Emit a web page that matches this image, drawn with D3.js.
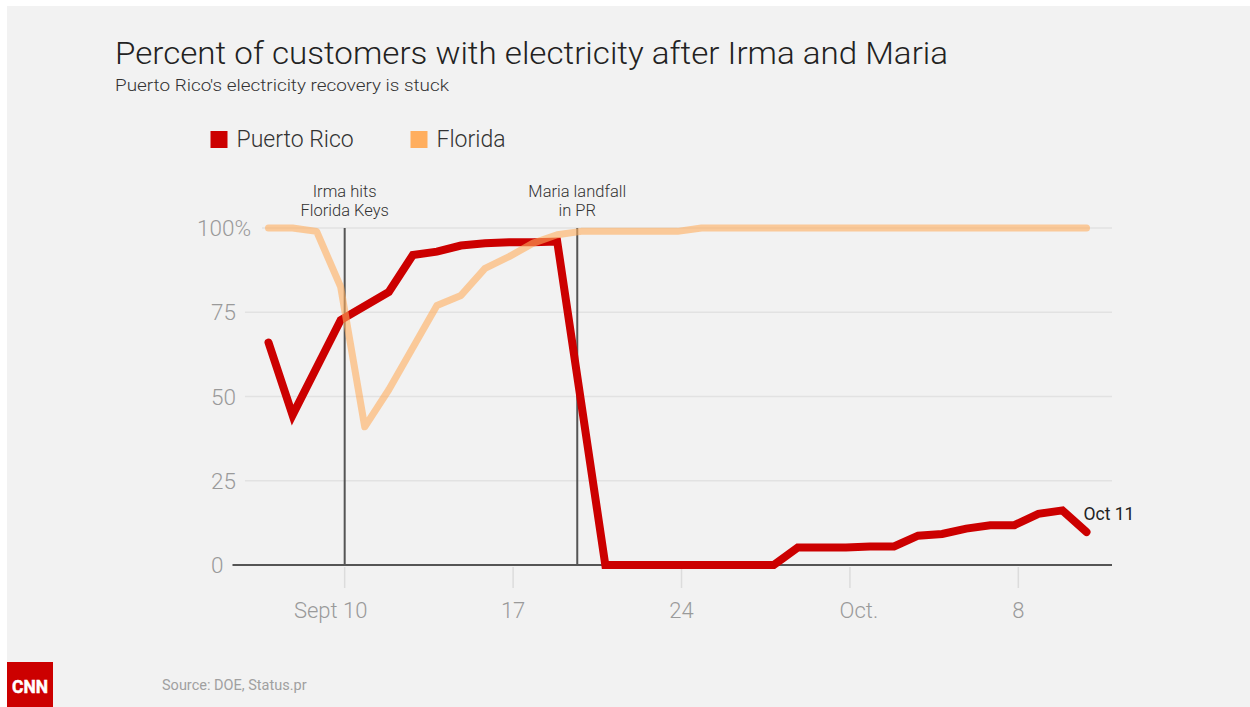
<!DOCTYPE html>
<html>
<head>
<meta charset="utf-8">
<script src="https://cdn.jsdelivr.net/npm/d3@7"></script>
<style>
body{margin:0;background:#fff;}
svg{display:block;font-family:Roboto, "Helvetica Neue", Arial, sans-serif;}
</style>
</head>
<body>
<svg id="chart" width="1250" height="707"></svg>
<script>
// Puerto Rico, share of customers with power (%)
const prDates = ["2017-09-07","2017-09-08","2017-09-10","2017-09-12","2017-09-13","2017-09-14",
    "2017-09-15","2017-09-16","2017-09-17","2017-09-18","2017-09-19","2017-09-21","2017-09-28",
    "2017-09-29","2017-10-01","2017-10-02","2017-10-03","2017-10-04","2017-10-05","2017-10-06",
    "2017-10-07","2017-10-08","2017-10-09","2017-10-10","2017-10-11"];
const prValues = [66,44.5,72.7,81,92,93,94.8,95.5,95.8,95.8,96,0,0,
    5.2,5.2,5.5,5.5,8.7,9.2,10.8,11.8,11.8,15.2,16.2,9.8];

// Florida
const flDates = ["2017-09-07","2017-09-08","2017-09-09","2017-09-10","2017-09-11","2017-09-12",
    "2017-09-13","2017-09-14","2017-09-15","2017-09-16","2017-09-17","2017-09-18","2017-09-19",
    "2017-09-20","2017-09-24","2017-09-25","2017-10-11"];
const flValues = [100,100,99,82.5,41,52,64.5,77,80,88,91.5,95.5,98,99,99,100,100];

const seriesNames = ["Puerto Rico","Florida"];
const yTicks = [0,25,50,75,100];
const xTickDates = ["2017-09-10","2017-09-17","2017-09-24","2017-10-01","2017-10-08"];
const xTickLabels = ["Sept 10","17","24","Oct.","8"];
const eventDates = ["2017-09-10T04:00","2017-09-19T20:00"];
const eventLabels = [["Irma hits","Florida Keys"],["Maria landfall","in PR"]];

const red = "#cc0000", orange = "#ffae5e";

const parseDay = d3.utcParse("%Y-%m-%d");
const parseTime = d3.utcParse("%Y-%m-%dT%H:%M");
// the data is stamped at UTC midnight, the axis ticks at Eastern midnight
const tickDate = d => d3.utcHour.offset(parseDay(d), 4);

const svg = d3.select("#chart");
svg.append("rect")
    .attr("x",7).attr("y",6)
    .attr("width",1243).attr("height",701)
    .attr("fill","#f2f2f2");

const x = d3.scaleUtc()
    .domain([parseDay("2017-09-07"), parseDay("2017-10-11")])
    .range([268.5, 1086.5]);
const y = d3.scaleLinear().domain([0,100]).range([565,228]);
const xEnd = 1112;

// title
svg.append("text")
    .attr("x",115).attr("y",64)
    .attr("font-size",31).attr("font-weight",300)
    .attr("fill","#222")
    .attr("textLength",833).attr("lengthAdjust","spacingAndGlyphs")
    .text("Percent of customers with electricity after Irma and Maria");
svg.append("text")
    .attr("x",115).attr("y",91)
    .attr("font-size",17).attr("font-weight",300)
    .attr("fill","#333")
    .attr("textLength",334).attr("lengthAdjust","spacingAndGlyphs")
    .text("Puerto Rico's electricity recovery is stuck");

// legend
const legend = svg.append("g");
const legendX = [210.5, 410.5];
seriesNames.forEach((name,i) => {
    legend.append("rect")
        .attr("x",legendX[i]).attr("y",131)
        .attr("width",17).attr("height",17)
        .attr("fill", i === 0 ? red : orange);
    legend.append("text")
        .attr("x",legendX[i]+26).attr("y",147)
        .attr("font-size",23).attr("font-weight",300)
        .attr("fill","#333")
        .text(name);
});

// y axis labels + gridlines
const yAxis = svg.append("g");
yTicks.forEach(v => {
    const label = yAxis.append("text")
        .attr("y", y(v)+8)
        .attr("font-size",22.5).attr("font-weight",300)
        .attr("fill","#9a9a9a")
        .text(v === 100 ? "100%" : v);
    let lx = 211;
    if (v === 100) lx = 197;
    label.attr("x", lx);
    const end = lx + label.node().getComputedTextLength() + 9;
    yAxis.insert("line", ":first-child")
        .attr("x1", v === 100 ? 262 : end).attr("x2", xEnd)
        .attr("y1", y(v)).attr("y2", y(v))
        .attr("stroke", v === 0 ? "#555" : "#e2e2e2")
        .attr("stroke-width", v === 0 ? 2 : 1.5);
});

// x axis ticks
const xAxis = svg.append("g");
xTickDates.forEach((d,i) => {
    const tx = x(tickDate(d));
    xAxis.append("line")
        .attr("x1",tx).attr("x2",tx)
        .attr("y1",567).attr("y2",588)
        .attr("stroke","#dcdcdc").attr("stroke-width",1.5);
    xAxis.append("text")
        .attr("x",tx).attr("y",618)
        .attr("dx", i === 0 ? -14 : (xTickLabels[i] === "Oct." ? 9 : 0))
        .attr("text-anchor","middle")
        .attr("font-size",22).attr("font-weight",300)
        .attr("fill","#9a9a9a")
        .text(xTickLabels[i]);
});

// event markers
eventDates.forEach((d,i) => {
    const ex = x(parseTime(d));
    svg.append("line")
        .attr("x1",ex).attr("x2",ex)
        .attr("y1",y(100)).attr("y2",y(0))
        .attr("stroke","#555").attr("stroke-width",2);
    eventLabels[i].forEach((s,j) => {
        svg.append("text")
            .attr("x",ex).attr("y",197 + j*19)
            .attr("text-anchor","middle")
            .attr("font-size",16.5).attr("font-weight",300)
            .attr("fill","#333")
            .text(s);
    });
});

// lines
const pr = prDates.map((d,i) => ({date: parseDay(d), value: prValues[i]}));
const fl = flDates.map((d,i) => ({date: parseDay(d), value: flValues[i]}));
const line = d3.line().x(d => x(d.date)).y(d => y(d.value));

svg.append("path")
    .datum(pr)
    .attr("d", line)
    .attr("fill","none")
    .attr("stroke",red)
    .attr("stroke-width",8)
    .attr("stroke-linejoin","miter")
    .attr("stroke-linecap","round");

svg.append("path")
    .datum(fl)
    .attr("d", line)
    .attr("fill","none")
    .attr("stroke",orange)
    .attr("stroke-opacity",0.6)
    .attr("stroke-width",7)
    .attr("stroke-linejoin","round")
    .attr("stroke-linecap","round");

// end label
const last = pr[pr.length-1];
svg.append("text")
    .attr("x", x(last.date)-3).attr("y", y(last.value)-12)
    .attr("font-size",17.5)
    .attr("fill","#222")
    .text("Oct 11");

// source + logo
svg.append("text")
    .attr("x",162).attr("y",690)
    .attr("font-size",14.5)
    .attr("fill","#a0a0a0")
    .text("Source: DOE, Status.pr");

svg.append("rect")
    .attr("x",7).attr("y",662)
    .attr("width",46).attr("height",45)
    .attr("fill",red);
svg.append("text")
    .attr("x",30).attr("y",693)
    .attr("text-anchor","middle")
    .attr("font-size",19).attr("font-weight",700)
    .attr("textLength",36).attr("lengthAdjust","spacingAndGlyphs")
    .attr("fill","#fff")
    .attr("stroke","#fff").attr("stroke-width",0.5)
    .text("CNN");
</script>
</body>
</html>
